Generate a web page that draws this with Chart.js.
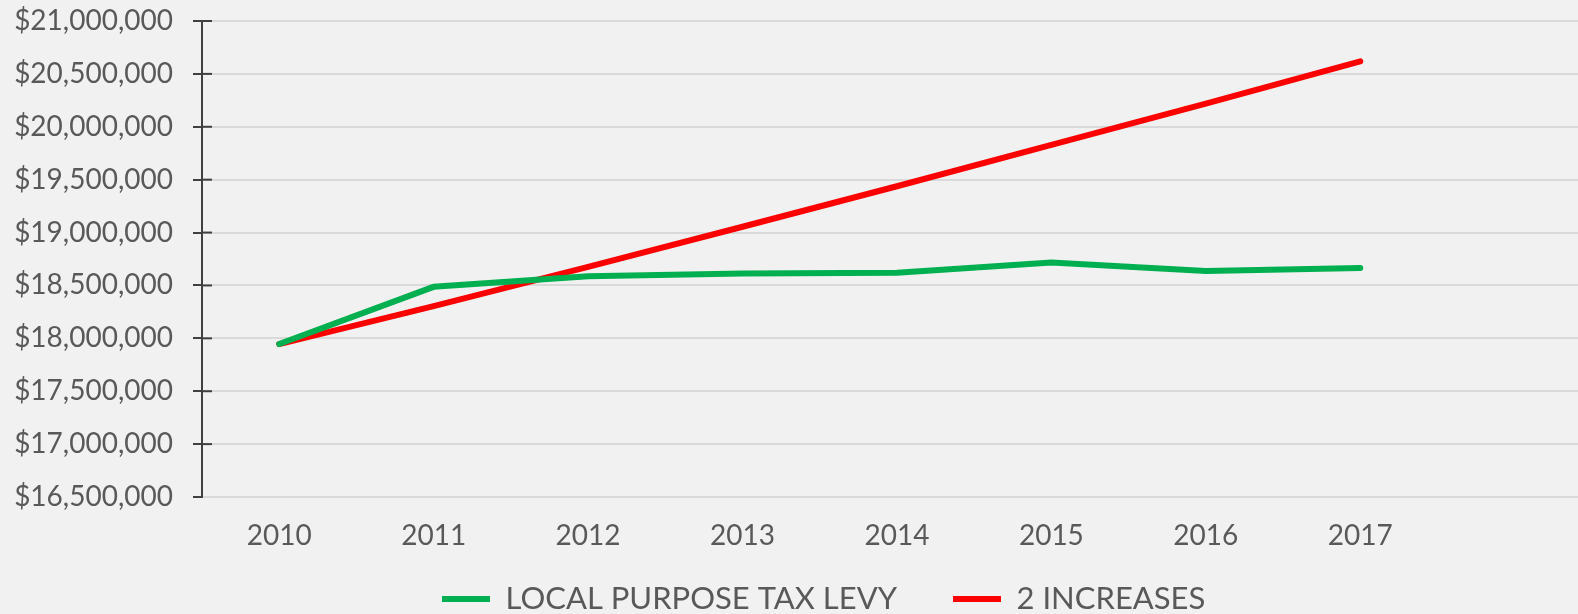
<!DOCTYPE html>
<html>
<head>
<meta charset="utf-8">
<script src="https://cdn.jsdelivr.net/npm/chart.js@4"></script>
<style>
    html, body { margin: 0; padding: 0; background: #f1f1f1; overflow: hidden; }
    #chart-wrap { width: 1578px; height: 614px; }
</style>
</head>
<body>
<div id="chart-wrap"><canvas id="levy-chart"></canvas></div>
<script>
const years = [2010, 2011, 2012, 2013, 2014, 2015, 2016, 2017];
const levyLabel = 'LOCAL PURPOSE TAX LEVY';
const levyValues = [17946000, 18487000, 18588000, 18614000, 18620000, 18718000, 18636000, 18664000];
const increasesLabel = '2 INCREASES';
const increasesValues = [17946000, 18305000, 18676000, 19055000, 19438000, 19828000, 20218000, 20618000];
const yTicks = [16500000, 17000000, 17500000, 18000000, 18500000, 19000000, 19500000, 20000000, 20500000, 21000000];

const TEXT = '#595959';
const AXIS = '#404040';
const GRID = '#d9d9d9';
const LEGEND_FONT = 31;
const LEGEND_PAD = 56;

const toPoints = (values) => values.map((v, i) => ({ x: years[i], y: v }));

// short tick marks on the inside of the value axis, like the original
const innerTicks = {
    id: 'innerTicks',
    afterDraw(chart) {
        const y = chart.scales.y, ctx = chart.ctx;
        ctx.save();
        ctx.strokeStyle = AXIS;
        ctx.lineWidth = 2;
        y.ticks.forEach(t => {
            if (t.value === y.min) return;
            const py = y.getPixelForValue(t.value);
            ctx.beginPath();
            ctx.moveTo(y.right, py);
            ctx.lineTo(y.right + 10, py);
            ctx.stroke();
        });
        ctx.restore();
    }
};

// the legend sits left of centre in the original
const legendPlace = {
    id: 'legendPlace',
    afterLayout(chart) {
        const lg = chart.legend;
        const w = lg.right - lg.left;
        lg.left = 442 - LEGEND_PAD;
        lg.right = lg.left + w;
        lg.top = 599 - LEGEND_PAD - LEGEND_FONT / 2;
    }
};

new Chart(document.getElementById('levy-chart').getContext('2d'), {
    type: 'line',
    data: {
        datasets: [{
            label: levyLabel,
            data: toPoints(levyValues),
            borderColor: '#00b050',
            backgroundColor: '#00b050',
            borderWidth: 6,
            borderCapStyle: 'round',
            pointRadius: 0,
            tension: 0
        }, {
            label: increasesLabel,
            data: toPoints(increasesValues),
            borderColor: '#ff0000',
            backgroundColor: '#ff0000',
            borderWidth: 6,
            borderCapStyle: 'round',
            pointRadius: 0,
            tension: 0
        }]
    },
    options: {
        responsive: true,
        maintainAspectRatio: false,
        animation: false,
        layout: { padding: { top: 21, left: 0, right: 0, bottom: -36 } },
        plugins: {
            tooltip: { enabled: false },
            legend: {
                position: 'bottom',
                align: 'start',
                labels: {
                    usePointStyle: true,
                    pointStyle: 'line',
                    pointStyleWidth: 48,
                    padding: LEGEND_PAD,
                    color: TEXT,
                    font: { family: 'Lato', size: LEGEND_FONT }
                }
            }
        },
        scales: {
            x: {
                type: 'linear',
                min: 2009.5,
                max: 2018.41,
                afterBuildTicks: (scale) => { scale.ticks = years.map(v => ({ value: v })); },
                afterFit: (scale) => { scale.height = 56; },
                grid: { display: false },
                border: { display: false },
                ticks: {
                    padding: 14,
                    color: TEXT,
                    font: { family: 'Lato', size: 28 },
                    callback: (v) => String(v)
                }
            },
            y: {
                min: 16500000,
                max: 21000000,
                afterBuildTicks: (scale) => { scale.ticks = yTicks.map(v => ({ value: v })); },
                afterFit: (scale) => {
                    scale.width = 202;
                    scale.paddingTop = 0;
                    scale.paddingBottom = 0;
                },
                border: { display: true, color: AXIS, width: 2 },
                grid: {
                    color: GRID,
                    lineWidth: 2,
                    drawTicks: true,
                    tickLength: 9,
                    tickColor: AXIS,
                    tickWidth: 2
                },
                ticks: {
                    padding: 20,
                    color: TEXT,
                    font: { family: 'Lato', size: 28 },
                    callback: (v) => '$' + v.toLocaleString('en-US')
                }
            }
        }
    },
    plugins: [innerTicks, legendPlace]
});
</script>
</body>
</html>
